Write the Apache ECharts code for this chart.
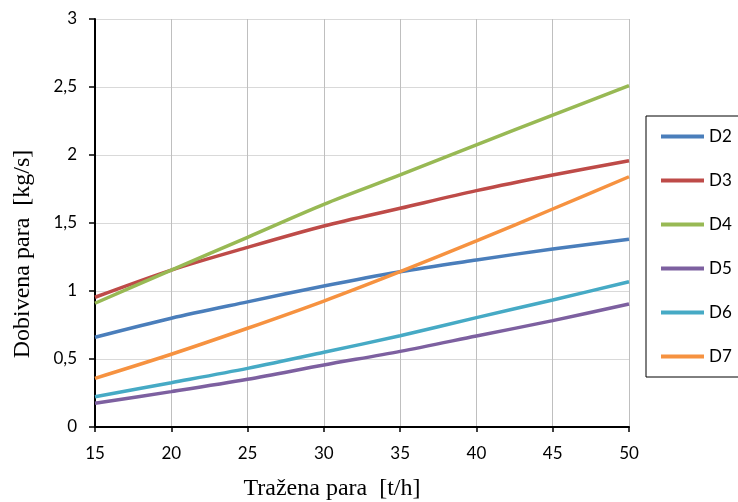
<!DOCTYPE html>
<html><head><meta charset="utf-8">
<script src="https://cdn.jsdelivr.net/npm/echarts@6/dist/echarts.min.js"></script>
<style>html,body{margin:0;padding:0;background:#fff}#c{width:738px;height:502px}</style>
</head><body><div id="c"></div>
<script>
const xValues = [15, 20, 25, 30, 35, 40, 45, 50];
const seriesNames = ['D2', 'D3', 'D4', 'D5', 'D6', 'D7'];
const D2 = [0.66, 0.80, 0.92, 1.037, 1.142, 1.228, 1.309, 1.38];
const D3 = [0.954, 1.154, 1.321, 1.478, 1.608, 1.738, 1.853, 1.958];
const D4 = [0.91, 1.154, 1.395, 1.637, 1.853, 2.074, 2.294, 2.51];
const D5 = [0.174, 0.26, 0.351, 0.456, 0.556, 0.669, 0.782, 0.904];
const D6 = [0.223, 0.326, 0.431, 0.549, 0.671, 0.804, 0.934, 1.068];
const D7 = [0.358, 0.535, 0.726, 0.926, 1.142, 1.368, 1.603, 1.84];
const allData = [D2, D3, D4, D5, D6, D7];
const colors = ['#4A7EBB', '#BE4B48', '#98B954', '#7D60A0', '#46AAC5', '#F69240'];
const xTitle = 'Tražena para  [t/h]';
const yTitle = 'Dobivena para  [kg/s]';

const chart = echarts.init(document.getElementById('c'));
const labelFont = { fontFamily: 'Lato', fontSize: 17, color: '#000' };
chart.setOption({
  animation: false,
  grid: { left: 95, right: 109, top: 19, bottom: 75 },
  legend: {
    orient: 'vertical',
    left: 646, top: 116,
    data: seriesNames,
    icon: 'rect',
    itemWidth: 43, itemHeight: 4,
    itemGap: 27,
    padding: [12, 12, 12, 15],
    borderColor: '#000', borderWidth: 1,
    textStyle: { fontFamily: 'Lato', fontSize: 17, color: '#000', lineHeight: 17 }
  },
  xAxis: {
    type: 'value', min: 15, max: 50, interval: 5,
    axisLine: { lineStyle: { color: '#000', width: 2 } },
    axisTick: { show: true, length: 5, lineStyle: { color: '#000', width: 1.5 } },
    axisLabel: Object.assign({ margin: 18 }, labelFont),
    splitLine: { show: true, lineStyle: { color: '#BFBFBF', width: 1 } }
  },
  yAxis: {
    type: 'value', min: 0, max: 3, interval: 0.5,
    axisLine: { show: true, lineStyle: { color: '#000', width: 2 } },
    axisTick: { show: true, length: 6, lineStyle: { color: '#000', width: 1.5 } },
    axisLabel: Object.assign({ margin: 18, formatter: v => String(v).replace('.', ',') }, labelFont),
    splitLine: { show: true, lineStyle: { color: '#D9D9D9', width: 1 } }
  },
  graphic: [
    { type: 'text', x: 332, y: 489, style: { text: xTitle, font: '24px "Liberation Serif"', fill: '#000', textAlign: 'center', textVerticalAlign: 'middle' } },
    { type: 'text', x: 23, y: 254, rotation: Math.PI / 2, style: { text: yTitle, font: '24px "Liberation Serif"', fill: '#000', textAlign: 'center', textVerticalAlign: 'middle' } }
  ],
  series: seriesNames.map((n, i) => ({
    name: n, type: 'line', smooth: 0.3, showSymbol: false, symbol: 'none',
    data: xValues.map((x, j) => [x, allData[i][j]]),
    lineStyle: { color: colors[i], width: 3.5 },
    itemStyle: { color: colors[i] }
  }))
});
</script></body></html>
